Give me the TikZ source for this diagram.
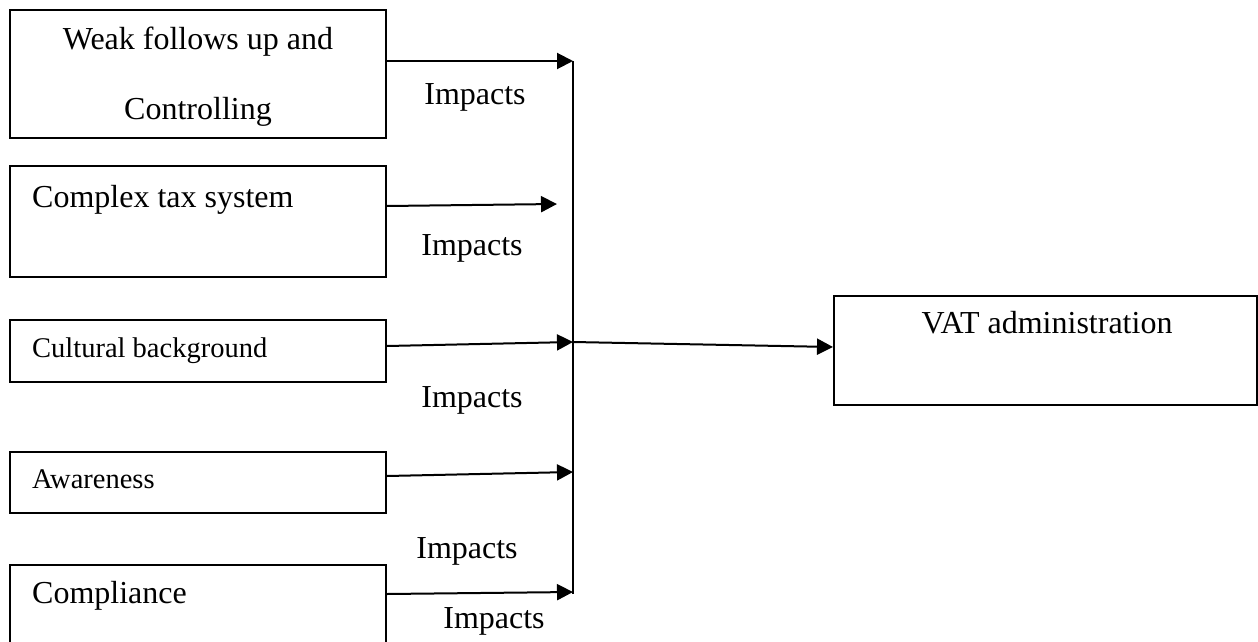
\documentclass[tikz,border=0pt]{standalone}
\usepackage{fontspec}
\setmainfont{Liberation Serif}
\usetikzlibrary{arrows.meta}
\begin{document}
\begin{tikzpicture}[x=1pt,y=-1pt,
  box/.style={draw=black,line width=2pt,minimum width=376pt,inner sep=0pt},
  big/.style={inner sep=0pt,font=\fontsize{32}{38}\selectfont},
  small/.style={inner sep=0pt,font=\fontsize{28.5}{34}\selectfont},
  arr/.style={line width=2pt,-{Triangle[length=16pt,width=16pt]}},
  bus/.style={line width=1.6pt}]
\useasboundingbox (0,0) rectangle (1258,642);
% boxes
\node[box,minimum height=128pt] (b1) at (198,74) {};
\node[box,minimum height=111pt] (b2) at (198,221.5) {};
\node[box,minimum height=62pt] (b3) at (198,351) {};
\node[box,minimum height=61pt] (b4) at (198,482.5) {};
\node[box,minimum height=95pt] (b5) at (198,612.5) {};
\node[box,minimum width=423pt,minimum height=109pt] (vat) at (1045.5,350.5) {};
% box texts
\node[big,anchor=base] (t1a) at (198,50) {Weak follows up and};
\node[big,anchor=base] (t1b) at (198,119) {Controlling};
\node[big,anchor=base west] (t2) at (32,207) {Complex tax system};
\node[small,anchor=base west] (t3) at (32,357) {Cultural background};
\node[small,anchor=base west] (t4) at (32,488) {Awareness};
\node[big,anchor=base west] (t5) at (32,603) {Compliance};
\node[big,anchor=base] (tv) at (1047,333) {VAT administration};
% junctions
\coordinate (j1) at (573,61);
\coordinate (e2) at (557,204);
\coordinate (j3) at (573,342);
\coordinate (j4) at (573,472);
\coordinate (j5) at (573,592);
\coordinate (jb) at (573,594);
% bus
\draw[bus] (j1) -- (jb);
% arrows
\draw[arr] ([yshift=13pt]b1.east) -- (j1);
\draw[arr] ([yshift=15.5pt]b2.east) -- (e2);
\draw[arr] ([yshift=5pt]b3.east) -- (j3);
\draw[arr] ([yshift=6.5pt]b4.east) -- (j4);
\draw[arr] ([yshift=18.5pt]b5.east) -- (j5);
\draw[arr] (j3) -- ([yshift=3.5pt]vat.west);
% labels
\node[big,anchor=base] (i1) at (475,104) {Impacts};
\node[big,anchor=base] (i2) at (472,255) {Impacts};
\node[big,anchor=base] (i3) at (472,407) {Impacts};
\node[big,anchor=base] (i4) at (467,558) {Impacts};
\node[big,anchor=base] (i5) at (494,628) {Impacts};
\end{tikzpicture}
\end{document}
